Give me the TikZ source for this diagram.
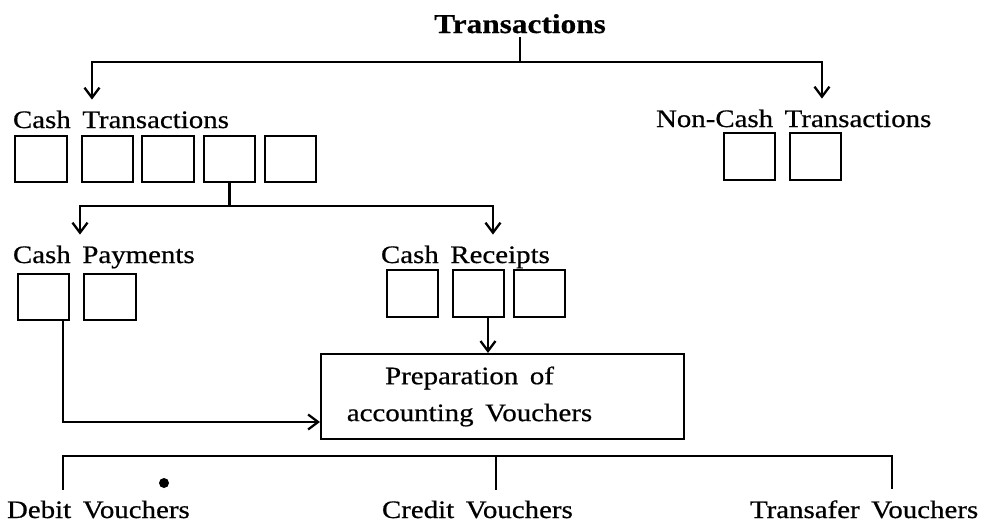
\documentclass[tikz,border=0pt]{standalone}
\usepackage{fontspec}
\setmainfont{Liberation Serif}[FakeStretch=1.15,WordSpace=1.6,FakeBold=0.6]
\usetikzlibrary{arrows.meta}

\begin{document}
\begin{tikzpicture}[x=0.02cm,y=-0.02cm,>={Straight Barb[length=2mm,width=3mm]},line width=1.3pt,
  lbl/.style={inner sep=0pt,outer xsep=0pt,outer ysep=0.22cm,anchor=base west,font=\fontsize{14.3}{17}\selectfont},
  sqbox/.style={draw,line width=1.2pt,inner sep=0pt,minimum width=1.03cm,minimum height=0.93cm}]
\useasboundingbox (0,0) rectangle (1001,521);
\node[inner sep=0pt,outer sep=2pt,anchor=base,font=\fontsize{15.5}{18}\selectfont\bfseries] (trans) at (520,33) {Transactions};
\node[lbl] (cashtr) at (13,128) {Cash Transactions};
\node[lbl] (noncash) at (656,127) {Non-Cash Transactions};
\foreach \x [count=\i] in {41,107.5,168,229.5,290.5}
  \node[sqbox] (ct\i) at (\x,159) {};
\foreach \x [count=\i] in {749.5,815.5}
  \node[sqbox] (nc\i) at (\x,156.5) {};
\node[lbl] (cashpay) at (13,263) {Cash Payments};
\node[lbl] (cashrec) at (381,263) {Cash Receipts};
\foreach \x [count=\i] in {43.5,110}
  \node[sqbox] (cp\i) at (\x,297) {};
\foreach \x [count=\i] in {412.5,478.5,539.5}
  \node[sqbox] (cr\i) at (\x,293.5) {};
\node[draw,line width=1.2pt,minimum width=7.26cm,minimum height=1.7cm,align=center,
  font=\fontsize{14.3}{17}\selectfont] (prep) at (502.5,396.5)
  {Preparation of\hspace*{1.32cm}\\[4pt]accounting Vouchers\hspace*{1.32cm}};
\node[lbl] (debit) at (7,518) {Debit Vouchers};
\node[lbl] (credit) at (382,518) {Credit Vouchers};
\node[lbl] (transf) at (750,518) {Transafer Vouchers};
\fill (164,483) circle (0.1cm);

\draw (trans.south) -- ++(0,25) coordinate (tj);
\draw[->] (tj) -| ([xshift=1.58cm]cashtr.north west);
\draw[->] (tj) -| ([xshift=3.32cm]noncash.north west);
\draw (ct4.south) -- ++(0,23) coordinate (cj);
\draw[->] (cj) -| ([xshift=1.34cm]cashpay.north west);
\draw[->] (cj) -| ([xshift=2.24cm]cashrec.north west);
\draw[->] ([xshift=0.39cm]cp1.south) |- ([yshift=-0.51cm]prep.west);
\draw[->] ([xshift=0.19cm]cr2.south) -- ([xshift=0.19cm]cr2.south |- prep.north);
\coordinate (bar) at ([yshift=-0.32cm]prep.south);
\draw ([xshift=1.12cm]debit.north west) |- (bar) -| ([xshift=2.84cm]transf.north west);
\draw ([xshift=2.28cm]credit.north west) -- ([xshift=2.28cm]credit.north west |- bar);
\end{tikzpicture}
\end{document}
